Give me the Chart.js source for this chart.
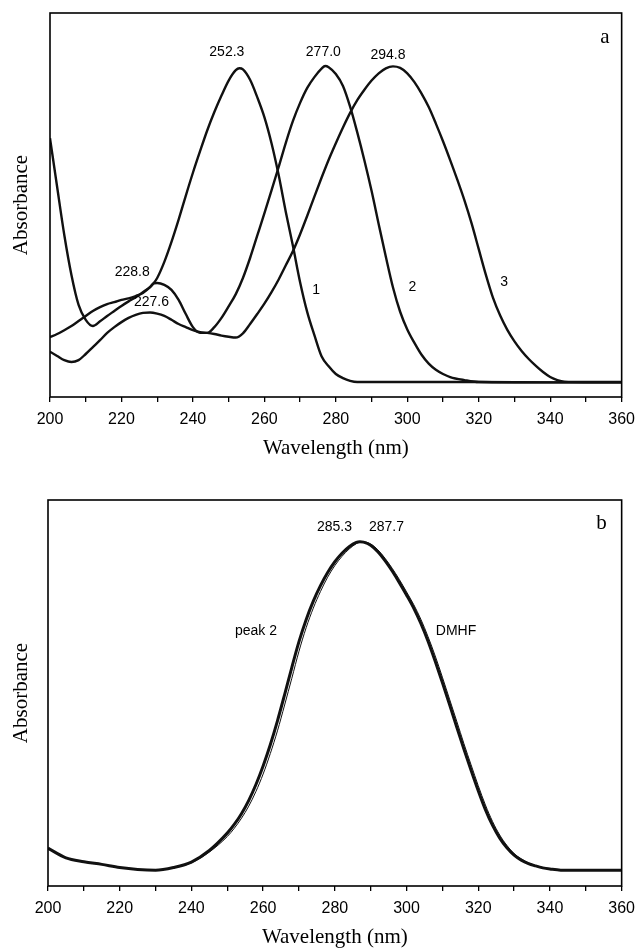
<!DOCTYPE html>
<html>
<head>
<meta charset="utf-8">
<script src="https://cdn.jsdelivr.net/npm/chart.js@4.4.0/dist/chart.umd.min.js"></script>
<style>
  body { margin: 0; background: #fff; }
  .panel { position: absolute; left: 0; width: 643px; }
</style>
</head>
<body>
<div class="panel" style="top:0;height:470px"><canvas id="chartA" width="643" height="470"></canvas></div>
<div class="panel" style="top:470px;height:480px"><canvas id="chartB" width="643" height="480"></canvas></div>
<script>
// panel a : three spectra (arbitrary absorbance units)
var wlCurve1 = [200,202,204,206,208,210,212,214,216,218,220,222,224,226,228,229,230,232,234,236,
  238,240,242,244,246,248,250,252,253,254,256,258,260,262,264,266,268,270,272,274,
  276,278,280,282,284,286,300,320,340,360];
var absCurve1 = [0.674,0.547,0.422,0.318,0.240,0.201,0.185,0.197,0.211,0.224,0.237,0.249,0.260,0.273,0.286,0.296,0.310,0.352,0.404,0.462,
  0.524,0.584,0.640,0.694,0.742,0.785,0.824,0.851,0.856,0.853,0.826,0.781,0.729,0.661,0.578,0.482,0.393,0.299,0.221,0.161,
  0.106,0.080,0.060,0.049,0.042,0.039,0.039,0.039,0.038,0.038];

var wlCurve2 = [200,202,204,206,208,210,212,214,216,218,220,222,224,226,228,229,230,232,234,236,
  238,240,242,244,246,248,250,252,254,256,258,260,262,264,266,268,270,272,274,276,
  277,278,280,282,284,286,288,290,292,294,296,298,300,302,304,306,308,310,312,316,
  320,340,360];
var absCurve2 = [0.156,0.164,0.174,0.185,0.198,0.211,0.224,0.234,0.242,0.247,0.253,0.257,0.263,0.271,0.286,0.296,0.297,0.292,0.279,0.253,
  0.216,0.182,0.167,0.167,0.182,0.206,0.236,0.268,0.310,0.362,0.420,0.478,0.538,0.599,0.662,0.719,0.766,0.805,0.833,0.855,
  0.862,0.859,0.841,0.810,0.756,0.689,0.616,0.537,0.450,0.365,0.285,0.222,0.176,0.141,0.110,0.087,0.071,0.060,0.052,0.044,
  0.039,0.038,0.038];

var wlCurve3 = [200,202,204,206,208,210,212,214,216,218,220,222,224,226,228,230,232,234,236,238,
  240,242,244,246,248,250,252,254,256,258,260,262,264,266,268,270,272,274,276,278,
  280,282,284,286,288,290,292,294,296,298,300,302,304,306,308,310,312,314,316,318,
  320,322,324,326,328,330,332,334,336,338,340,342,344,350,360];
var absCurve3 = [0.118,0.107,0.096,0.091,0.096,0.112,0.130,0.148,0.167,0.182,0.195,0.206,0.214,0.219,0.220,0.217,0.211,0.201,0.190,0.182,
  0.174,0.169,0.167,0.164,0.160,0.157,0.155,0.166,0.190,0.216,0.243,0.273,0.306,0.343,0.380,0.424,0.472,0.522,0.571,0.618,
  0.661,0.702,0.740,0.773,0.800,0.824,0.843,0.856,0.861,0.857,0.843,0.820,0.790,0.755,0.712,0.666,0.617,0.566,0.512,0.452,
  0.385,0.318,0.258,0.212,0.175,0.145,0.120,0.099,0.081,0.065,0.052,0.044,0.040,0.039,0.039];

// panel b : peak 2 against DMHF
var wlPanelB = [200,205,210,215,220,225,230,235,240,245,250,252,254,256,258,260,262,264,266,268,
  270,272,274,276,278,280,282,284,286,287,288,290,292,294,296,298,300,302,304,306,
  308,310,312,314,316,318,320,322,324,326,328,330,332,334,336,338,340,343,350,360];
var absPeak2 = [0.098,0.073,0.063,0.056,0.048,0.043,0.041,0.048,0.062,0.092,0.137,0.160,0.188,0.222,0.263,0.311,0.366,0.428,0.496,0.566,
  0.633,0.690,0.738,0.778,0.812,0.840,0.862,0.879,0.890,0.892,0.891,0.883,0.866,0.843,0.816,0.786,0.754,0.720,0.680,0.634,
  0.582,0.527,0.470,0.412,0.355,0.300,0.247,0.198,0.157,0.124,0.099,0.080,0.067,0.058,0.052,0.047,0.044,0.041,0.041,0.041];
var absDMHF = [0.098,0.073,0.063,0.056,0.048,0.043,0.041,0.047,0.060,0.088,0.128,0.150,0.176,0.207,0.245,0.290,0.343,0.402,0.469,0.538,
  0.608,0.669,0.720,0.763,0.800,0.830,0.854,0.873,0.887,0.891,0.892,0.886,0.871,0.849,0.823,0.794,0.762,0.729,0.691,0.646,
  0.596,0.541,0.484,0.427,0.369,0.314,0.260,0.210,0.167,0.132,0.105,0.084,0.070,0.060,0.053,0.048,0.045,0.041,0.041,0.041];

var xTickLabels = ["200","220","240","260","280","300","320","340","360"];

// text written on the plots, placed in data units
var notesA = [
  { text: "252.3", x: 249.5, y: 0.898 },
  { text: "277.0", x: 276.5, y: 0.898 },
  { text: "294.8", x: 294.6, y: 0.891 },
  { text: "228.8", x: 223.0, y: 0.326 },
  { text: "227.6", x: 228.4, y: 0.246 },
  { text: "1", x: 274.5, y: 0.279 },
  { text: "2", x: 301.4, y: 0.287 },
  { text: "3", x: 327.1, y: 0.300 },
  { text: "a", x: 355.3, y: 0.935, serif: true }
];
var notesB = [
  { text: "285.3", x: 279.9, y: 0.929 },
  { text: "287.7", x: 294.4, y: 0.930 },
  { text: "peak 2", x: 258.0, y: 0.659 },
  { text: "DMHF", x: 313.8, y: 0.659 },
  { text: "b", x: 354.4, y: 0.940, serif: true }
];

function toPoints(xs, ys) {
  return xs.map(function (x, i) { return { x: x, y: ys[i] }; });
}

function curve(xs, ys, width) {
  return {
    data: toPoints(xs, ys),
    borderColor: "#111",
    borderWidth: width,
    pointRadius: 0,
    fill: false,
    cubicInterpolationMode: "monotone"
  };
}

// frame round the plot area + free text
var framePlugin = {
  id: "frame",
  afterDatasetsDraw: function (chart, args, opts) {
    var ctx = chart.ctx, a = chart.chartArea;
    ctx.save();
    ctx.strokeStyle = "#000";
    ctx.lineWidth = 1.6;
    ctx.strokeRect(a.left, a.top, a.right - a.left, a.bottom - a.top);
    ctx.fillStyle = "#000";
    ctx.textAlign = "center";
    ctx.textBaseline = "middle";
    (opts.notes || []).forEach(function (n) {
      ctx.font = n.serif ? "21px 'Liberation Serif'" : "14px 'Liberation Sans'";
      ctx.fillText(n.text, chart.scales.x.getPixelForValue(n.x), chart.scales.y.getPixelForValue(n.y));
    });
    ctx.restore();
  }
};

function makeOptions(notes, pad, xHeight, yWidth, titlePad) {
  return {
    responsive: false,
    animation: false,
    devicePixelRatio: 1,
    layout: { padding: pad },
    plugins: { legend: { display: false }, tooltip: { enabled: false }, frame: { notes: notes } },
    scales: {
      x: {
        type: "linear",
        min: 200,
        max: 360,
        afterFit: function (s) { s.height = xHeight; },
        border: { display: false },
        grid: { drawOnChartArea: false, tickLength: 5, color: "#000", lineWidth: 1.3 },
        ticks: {
          stepSize: 10,
          autoSkip: false,
          maxRotation: 0,
          padding: 8,
          color: "#000",
          font: { family: "'Liberation Sans'", size: 16 },
          callback: function (v) {
            var s = String(v);
            return xTickLabels.indexOf(s) >= 0 ? s : "";
          }
        },
        title: {
          display: true,
          text: "Wavelength (nm)",
          color: "#000",
          font: { family: "'Liberation Serif'", size: 21 },
          padding: { top: 0, bottom: titlePad }
        }
      },
      y: {
        min: 0,
        max: 1,
        afterFit: function (s) { s.width = yWidth; },
        border: { display: false },
        grid: { display: false },
        ticks: { display: false },
        title: {
          display: true,
          text: "Absorbance",
          color: "#000",
          font: { family: "'Liberation Serif'", size: 21 },
          padding: { top: 9, bottom: 0 }
        }
      }
    }
  };
}

new Chart(document.getElementById("chartA"), {
  type: "line",
  data: {
    datasets: [
      curve(wlCurve1, absCurve1, 2.4),
      curve(wlCurve2, absCurve2, 2.4),
      curve(wlCurve3, absCurve3, 2.4)
    ]
  },
  options: makeOptions(notesA, { left: 0, top: 13, right: 17, bottom: 0 }, 73, 50, 9),
  plugins: [framePlugin]
});

new Chart(document.getElementById("chartB"), {
  type: "line",
  data: {
    datasets: [
      curve(wlPanelB, absPeak2, 3),
      curve(wlPanelB, absDMHF, 1)
    ]
  },
  options: makeOptions(notesB, { left: 0, top: 30, right: 16, bottom: 0 }, 64, 48, 0),
  plugins: [framePlugin]
});
</script>
</body>
</html>
